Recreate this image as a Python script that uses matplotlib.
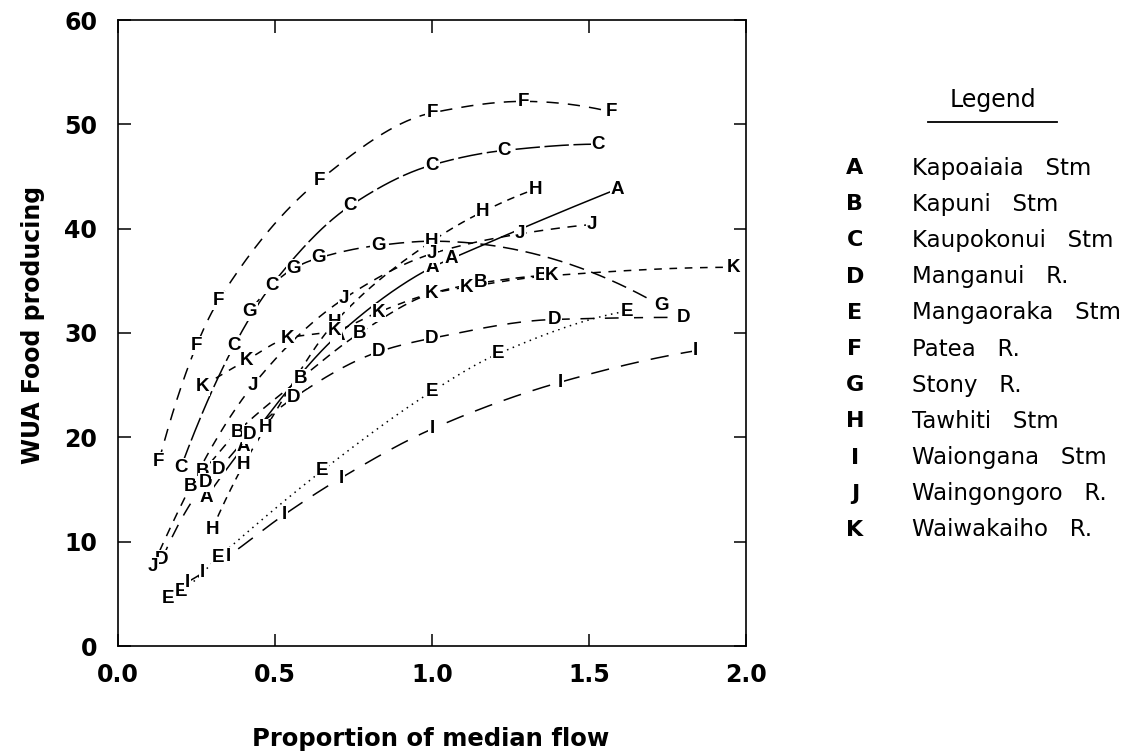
import numpy as np
import matplotlib
matplotlib.use("Agg")
import matplotlib.pyplot as plt

# ---- data ----
letters = ["A", "B", "C", "D", "E", "F", "G", "H", "I", "J", "K"]
names = ["Kapoaiaia   Stm", "Kapuni   Stm", "Kaupokonui   Stm", "Manganui   R.",
         "Mangaoraka   Stm", "Patea   R.", "Stony   R.", "Tawhiti   Stm",
         "Waiongana   Stm", "Waingongoro   R.", "Waiwakaiho   R."]

x_A = [0.28, 0.40, 0.70, 1.00, 1.06, 1.59]
y_A = [14.2, 19.1, 29.8, 36.3, 37.1, 43.8]
x_B = [0.23, 0.27, 0.38, 0.58, 0.77, 1.00, 1.155, 1.35]
y_B = [15.3, 16.7, 20.5, 25.6, 30.0, 33.8, 34.8, 35.5]
x_C = [0.20, 0.37, 0.49, 0.74, 1.00, 1.23, 1.53]
y_C = [17.1, 28.8, 34.6, 42.2, 46.1, 47.5, 48.1]
x_D = [0.14, 0.28, 0.32, 0.42, 0.56, 0.83, 1.00, 1.39, 1.80]
y_D = [8.3, 15.7, 16.9, 20.3, 23.8, 28.2, 29.5, 31.3, 31.5]
x_E = [0.16, 0.20, 0.32, 0.65, 1.00, 1.21, 1.62]
y_E = [4.6, 5.2, 8.5, 16.8, 24.4, 28.0, 32.1]
x_F = [0.13, 0.25, 0.32, 0.64, 1.00, 1.29, 1.57]
y_F = [17.7, 28.8, 33.1, 44.6, 51.1, 52.2, 51.2]
x_G = [0.42, 0.56, 0.64, 0.83, 1.00, 1.73]
y_G = [32.1, 36.2, 37.2, 38.4, 38.8, 32.6]
x_H = [0.30, 0.40, 0.47, 0.69, 1.00, 1.16, 1.33]
y_H = [11.2, 17.4, 20.9, 31.0, 38.8, 41.6, 43.8]
x_I = [0.22, 0.27, 0.35, 0.53, 0.71, 1.00, 1.41, 1.84]
y_I = [6.1, 7.0, 8.6, 12.6, 16.1, 20.8, 25.3, 28.3]
x_J = [0.11, 0.43, 0.72, 1.00, 1.28, 1.51]
y_J = [7.6, 25.0, 33.3, 37.6, 39.5, 40.4]
x_K = [0.27, 0.41, 0.54, 0.69, 0.83, 1.00, 1.11, 1.38, 1.96]
y_K = [24.9, 27.4, 29.5, 30.2, 32.0, 33.8, 34.4, 35.5, 36.3]

xs = [x_A, x_B, x_C, x_D, x_E, x_F, x_G, x_H, x_I, x_J, x_K]
ys = [y_A, y_B, y_C, y_D, y_E, y_F, y_G, y_H, y_I, y_J, y_K]

x_ticks = [0.0, 0.5, 1.0, 1.5, 2.0]
y_ticks = [0, 10, 20, 30, 40, 50, 60]

styles = {
    "A": "-",
    "B": (0, (6, 4)),
    "C": (0, (16, 3)),
    "D": (0, (9, 7)),
    "E": (0, (1, 3)),
    "F": (0, (8, 6)),
    "G": (0, (10, 5)),
    "H": (0, (5, 4)),
    "I": (0, (12, 8)),
    "J": (0, (6, 5)),
    "K": (0, (5, 5)),
}


def smooth_curve(x, y, n=300):
    """Shape-preserving (Fritsch-Carlson) cubic curve through the points."""
    x = np.asarray(x, float)
    y = np.asarray(y, float)
    h = np.diff(x)
    d = np.diff(y) / h
    m = np.zeros_like(x)
    for k in range(1, len(x) - 1):
        if d[k - 1] * d[k] > 0:
            w1 = 2 * h[k] + h[k - 1]
            w2 = h[k] + 2 * h[k - 1]
            m[k] = (w1 + w2) / (w1 / d[k - 1] + w2 / d[k])

    def end_slope(h0, h1, d0, d1):
        s = ((2 * h0 + h1) * d0 - h0 * d1) / (h0 + h1)
        if np.sign(s) != np.sign(d0):
            s = 0.0
        elif np.sign(d0) != np.sign(d1) and abs(s) > abs(3 * d0):
            s = 3 * d0
        return s

    if len(x) > 2:
        m[0] = end_slope(h[0], h[1], d[0], d[1])
        m[-1] = end_slope(h[-1], h[-2], d[-1], d[-2])
    else:
        m[:] = d[0]
    xx = np.linspace(x[0], x[-1], n)
    idx = np.clip(np.searchsorted(x, xx) - 1, 0, len(x) - 2)
    t = (xx - x[idx]) / h[idx]
    h00 = 2 * t**3 - 3 * t**2 + 1
    h10 = t**3 - 2 * t**2 + t
    h01 = -2 * t**3 + 3 * t**2
    h11 = t**3 - t**2
    yy = (h00 * y[idx] + h10 * h[idx] * m[idx]
          + h01 * y[idx + 1] + h11 * h[idx] * m[idx + 1])
    return xx, yy


fig = plt.figure(figsize=(11.43, 7.52), dpi=100)
ax = fig.add_axes([118 / 1143, 1 - 646 / 752, (746 - 118) / 1143, (646 - 20) / 752])

for let, xv, yv in zip(letters, xs, ys):
    xx, yy = smooth_curve(xv, yv)
    ax.plot(xx, yy, color="black", lw=1.1, linestyle=styles[let], zorder=2)
    for px, py in zip(xv, yv):
        ax.text(px, py, let, ha="center", va="center", fontsize=13.5,
                fontweight="bold", family=["Liberation Sans", "DejaVu Sans"],
                zorder=3,
                bbox=dict(boxstyle="square,pad=0.05", fc="white", ec="none"))

ax.set_xlim(0, 2.0)
ax.set_ylim(0, 60)
ax.set_xticks(x_ticks)
ax.set_yticks(y_ticks)
ax.set_xticklabels([f"{v:.1f}" for v in x_ticks])
ax.set_yticklabels([str(v) for v in y_ticks])
ax.tick_params(direction="in", length=9, width=1.1, top=True, right=True,
               labelsize=17, pad=12)
ax.tick_params(axis="y", pad=15)
for lab in ax.get_xticklabels() + ax.get_yticklabels():
    lab.set_fontweight("bold")
    lab.set_family("DejaVu Sans")
for sp in ax.spines.values():
    sp.set_linewidth(1.2)

fig.text(431 / 1143, 1 - 739 / 752, "Proportion of median flow", ha="center",
         va="center", fontsize=17.5, fontweight="bold", family="DejaVu Sans")
fig.text(33 / 1143, 1 - 325 / 752, "WUA Food producing", ha="center",
         va="center", rotation=90, fontsize=17, fontweight="bold",
         family="DejaVu Sans")

# legend
fig.text(993 / 1143, 1 - 100 / 752, "Legend", ha="center", va="center",
         fontsize=17, family="DejaVu Sans")
fig.add_artist(plt.Line2D([928 / 1143, 1057 / 1143], [1 - 122 / 752, 1 - 122 / 752],
                          color="black", lw=1.3))
for i, (let, nm) in enumerate(zip(letters, names)):
    yy = 1 - (168 + i * 36.2) / 752
    fig.text(855 / 1143, yy, let, ha="center", va="center", fontsize=16,
             fontweight="bold", family=["Liberation Sans Narrow", "DejaVu Sans"])
    fig.text(912 / 1143, yy, nm, ha="left", va="center", fontsize=16.5,
             family="DejaVu Sans")

fig.savefig("out.png", dpi=100, facecolor="white")
